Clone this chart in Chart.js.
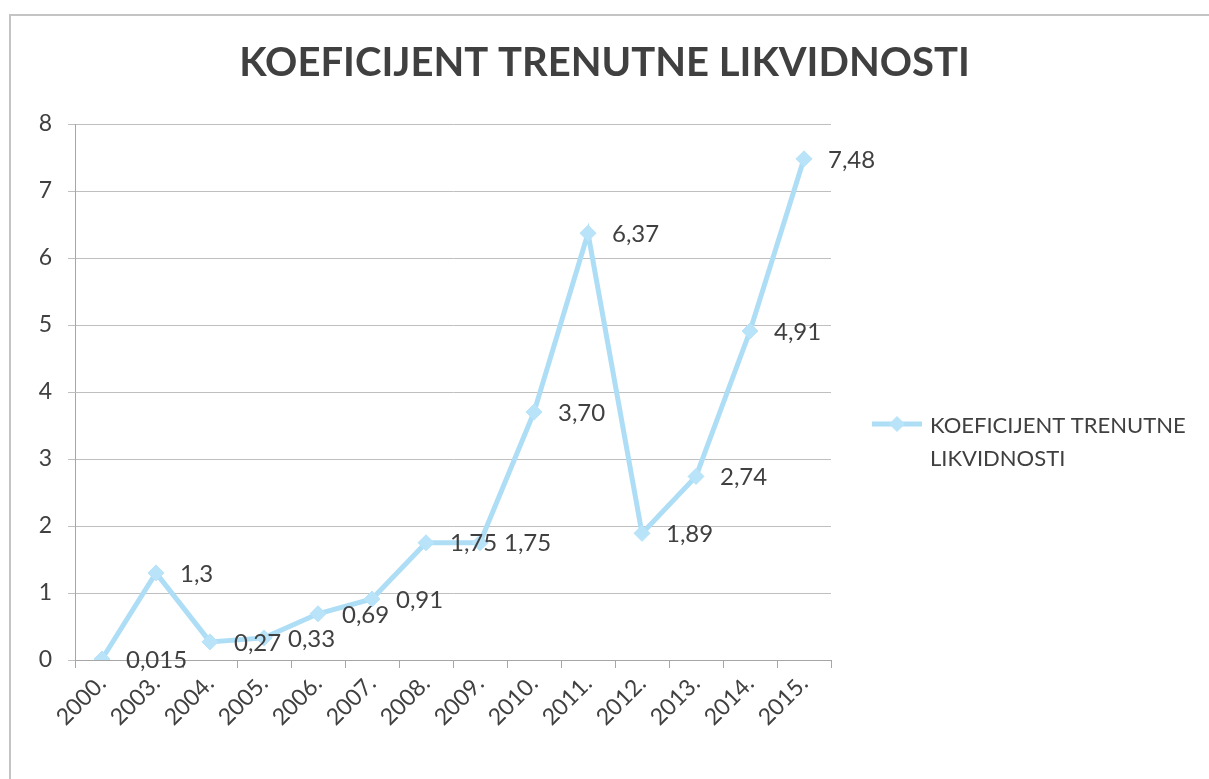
<!DOCTYPE html>
<html>
<head>
<meta charset="utf-8">
<script src="https://cdn.jsdelivr.net/npm/chart.js@4.4.0/dist/chart.umd.min.js"></script>
<style>
  html, body { margin: 0; padding: 0; background: #fff; }
  #wrap { width: 1209px; height: 779px; }
</style>
</head>
<body>
<div id="wrap"><canvas id="chart" width="1209" height="779"></canvas></div>
<script>
const years = ["2000.", "2003.", "2004.", "2005.", "2006.", "2007.", "2008.",
               "2009.", "2010.", "2011.", "2012.", "2013.", "2014.", "2015."];
const values = [0.015, 1.3, 0.27, 0.33, 0.69, 0.91, 1.75, 1.75, 3.70, 6.37, 1.89, 2.74, 4.91, 7.48];
const valueLabels = ["0,015", "1,3", "0,27", "0,33", "0,69", "0,91", "1,75",
                     "1,75", "3,70", "6,37", "1,89", "2,74", "4,91", "7,48"];
const seriesName = ["KOEFICIJENT TRENUTNE", "LIKVIDNOSTI"];
const chartTitle = "KOEFICIJENT TRENUTNE LIKVIDNOSTI";

const lineColor = "#aedef6";
const markerColor = "#b8e3f8";
const textColor = "#404040";

// frame + white background
const framePlugin = {
    id: "frame",
    beforeDraw(chart) {
        const ctx = chart.ctx;
        ctx.save();
        ctx.fillStyle = "#fff";
        ctx.fillRect(0, 0, chart.width, chart.height);
        ctx.strokeStyle = "#c4c4c4";
        ctx.lineWidth = 2;
        ctx.strokeRect(10, 15, chart.width + 20, chart.height + 20);
        ctx.restore();
    }
};

// value labels to the right of each point
const pointLabelsPlugin = {
    id: "pointLabels",
    afterDatasetsDraw(chart) {
        const ctx = chart.ctx;
        const meta = chart.getDatasetMeta(0);
        ctx.save();
        ctx.font = "24px Lato";
        ctx.fillStyle = textColor;
        ctx.textAlign = "left";
        ctx.textBaseline = "middle";
        meta.data.forEach((pt, i) => {
            ctx.fillText(valueLabels[i], pt.x + 24, pt.y + 1);
        });
        ctx.restore();
    }
};

// legend on the right (two-line label, line + diamond icon)
const sideLegendPlugin = {
    id: "sideLegend",
    afterDraw(chart) {
        const ctx = chart.ctx;
        const area = chart.chartArea;
        const x0 = area.right + 41;
        const y0 = 424;
        ctx.save();
        ctx.strokeStyle = lineColor;
        ctx.lineWidth = 5;
        ctx.beginPath();
        ctx.moveTo(x0, y0);
        ctx.lineTo(x0 + 50, y0);
        ctx.stroke();
        ctx.fillStyle = markerColor;
        ctx.beginPath();
        ctx.moveTo(x0 + 25, y0 - 8);
        ctx.lineTo(x0 + 33, y0);
        ctx.lineTo(x0 + 25, y0 + 8);
        ctx.lineTo(x0 + 17, y0);
        ctx.closePath();
        ctx.fill();
        ctx.font = "22px Lato";
        ctx.fillStyle = textColor;
        ctx.textAlign = "left";
        ctx.textBaseline = "middle";
        seriesName.forEach((line, i) => ctx.fillText(line, x0 + 58, y0 + 2 + i * 33));
        ctx.restore();
    }
};

const ctx = document.getElementById("chart").getContext("2d");

new Chart(ctx, {
    type: "line",
    data: {
        labels: years,
        datasets: [{
            label: seriesName.join(" "),
            data: values,
            borderColor: lineColor,
            borderWidth: 5,
            tension: 0,
            fill: false,
            pointStyle: "rectRot",
            pointRadius: 8,
            pointBackgroundColor: markerColor,
            pointBorderColor: markerColor,
            pointBorderWidth: 1,
        }]
    },
    options: {
        responsive: false,
        animation: false,
        layout: { padding: 0 },
        scales: {
            x: {
                offset: true,
                grid: { offset: true, drawOnChartArea: false, drawTicks: true, tickLength: 8, color: "#a6a6a6" },
                border: { display: true, color: "#a6a6a6", width: 1 },
                ticks: {
                    autoSkip: false,
                    maxRotation: 45,
                    minRotation: 45,
                    padding: 2,
                    color: textColor,
                    font: { family: "Lato", size: 23 }
                },
                afterFit(s) { s.height = 119; }
            },
            y: {
                min: 0,
                max: 8,
                ticks: {
                    stepSize: 1,
                    padding: 16,
                    color: textColor,
                    font: { family: "Lato", size: 23 }
                },
                grid: { color: "#bfbfbf", tickLength: 7 },
                border: { display: true, color: "#a6a6a6", width: 1 },
                afterFit(s) { s.width = 75; }
            },
            // empty axis that only keeps room for the legend on the right
            side: {
                type: "linear",
                position: "right",
                grid: { display: false, drawTicks: false },
                border: { display: false },
                ticks: { display: false },
                afterFit(s) { s.width = 378; }
            }
        },
        plugins: {
            title: {
                display: true,
                text: chartTitle,
                color: textColor,
                font: { family: "Lato", size: 40, weight: "bold" },
                padding: { top: 39, bottom: 37 }
            },
            legend: { display: false },
            tooltip: { enabled: false }
        }
    },
    plugins: [framePlugin, pointLabelsPlugin, sideLegendPlugin]
});
</script>
</body>
</html>
